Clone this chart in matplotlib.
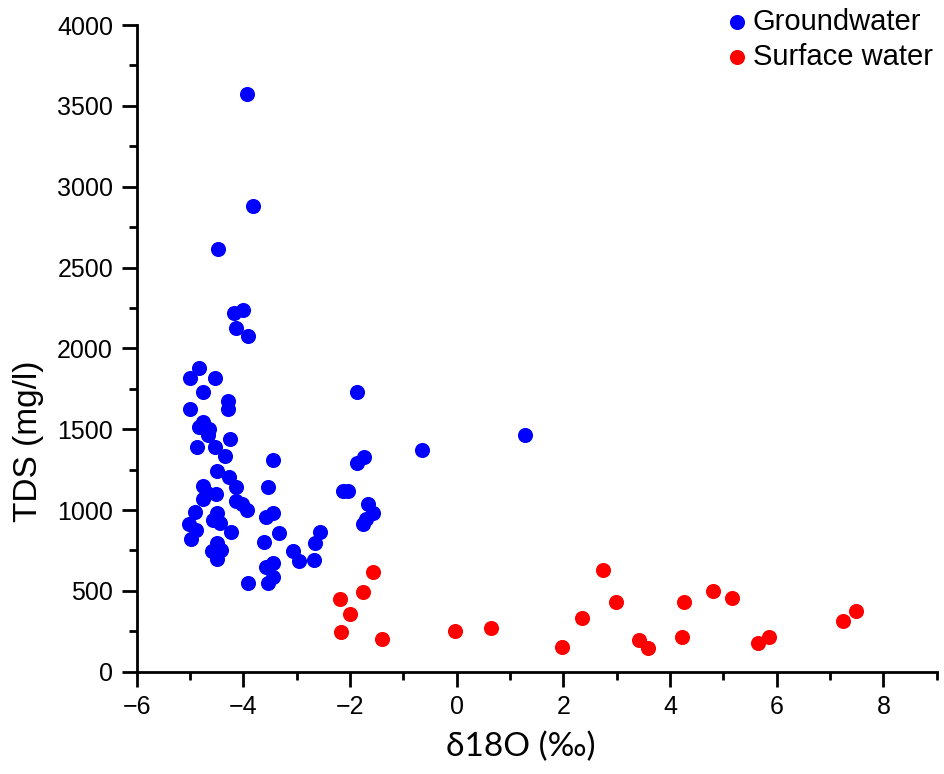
import matplotlib
matplotlib.use("Agg")
import matplotlib.pyplot as plt
from matplotlib.ticker import MultipleLocator

plt.rcParams['font.family'] = ['Liberation Sans', 'DejaVu Sans']

# groundwater samples: d18O (permil), TDS (mg/l)
gw_d18o = [-3.93, -3.82, -4.47, -4.00, -4.18, -4.14, -3.91,
           -4.83, -5.00, -4.53, -4.75, -4.28, -4.28, -5.00, -4.75, -4.84,
           -4.64, -4.66, -4.25, -4.86, -4.53, -4.34, -3.44, -4.50, -4.27,
           -4.14, -4.75, -3.53, -4.69, -4.51, -4.76, -4.14, -4.03, -3.93,
           -4.91, -4.50, -3.44, -3.58, -4.56, -5.01, -4.44, -4.89, -4.23,
           -3.34, -4.99, -2.56, -2.66, -3.61, -4.50, -4.59, -4.41, -3.06,
           -2.95, -2.68, -4.50, -3.44, -3.58, -3.44, -3.53, -3.91,
           -1.87, -1.87, -1.74, -2.14, -2.03, -1.66, -1.57, -1.76, -1.70,
           -0.66, 1.28]
gw_tds = [3575, 2880, 2613, 2237, 2217, 2128, 2076,
          1877, 1818, 1815, 1732, 1674, 1625, 1625, 1542, 1512,
          1499, 1464, 1437, 1392, 1388, 1334, 1309, 1241, 1206,
          1140, 1150, 1144, 1103, 1099, 1066, 1058, 1037, 1000,
          986, 980, 983, 959, 938, 912, 918, 876, 866,
          856, 819, 866, 798, 800, 794, 747, 753, 747,
          687, 691, 695, 674, 650, 588, 551, 551,
          1728, 1289, 1326, 1120, 1120, 1037, 983, 913, 945,
          1371, 1465]

# surface water samples
sw_d18o = [-1.57, -1.75, -2.19, -2.00, -2.17, -1.41, -0.03, 0.64,
           1.97, 2.34, 2.75, 2.99, 3.42, 3.59, 4.27, 4.23, 4.81, 5.16,
           5.64, 5.86, 7.24, 7.49]
sw_tds = [615, 491, 448, 355, 244, 202, 254, 272,
          155, 334, 629, 433, 196, 148, 429, 213, 501, 454,
          179, 216, 315, 377]

fig = plt.figure(figsize=(9.44, 7.74), dpi=100)
ax = fig.add_axes([0.1448, 0.1322, 0.8475, 0.8355])

ax.scatter(gw_d18o, gw_tds, s=118, color='#0000ff', linewidths=0,
           label='Groundwater', zorder=3)
ax.scatter(sw_d18o, sw_tds, s=118, color='#ff0000', linewidths=0,
           label='Surface water', zorder=3)

ax.set_xlim(-6, 9)
ax.set_ylim(0, 4000)
ax.xaxis.set_major_locator(MultipleLocator(2))
ax.xaxis.set_minor_locator(MultipleLocator(1))
ax.yaxis.set_major_locator(MultipleLocator(500))
ax.yaxis.set_minor_locator(MultipleLocator(250))

for s in ['top', 'right']:
    ax.spines[s].set_visible(False)
for s in ['left', 'bottom']:
    ax.spines[s].set_linewidth(2)

ax.tick_params(which='major', length=11, width=2, labelsize=18, direction='out', pad=6)
ax.tick_params(which='minor', length=6, width=2, direction='out')

ax.set_xlabel('δ18O (‰)', fontsize=24, family=['Lato', 'DejaVu Sans'])
ax.xaxis.set_label_coords(0.48, -0.116)
ax.xaxis.label.set_va('center')
ax.set_ylabel('TDS (mg/l)', fontsize=24)
ax.yaxis.set_label_coords(-0.135, 0.357)
ax.yaxis.label.set_va('center')

ax.legend(loc='upper right', bbox_to_anchor=(0.988, 0.99), bbox_transform=fig.transFigure,
          frameon=False, fontsize=21, handletextpad=0.1, handlelength=0.9,
          labelspacing=0.25, borderpad=0, borderaxespad=0)

fig.savefig('out.png', dpi=100)
